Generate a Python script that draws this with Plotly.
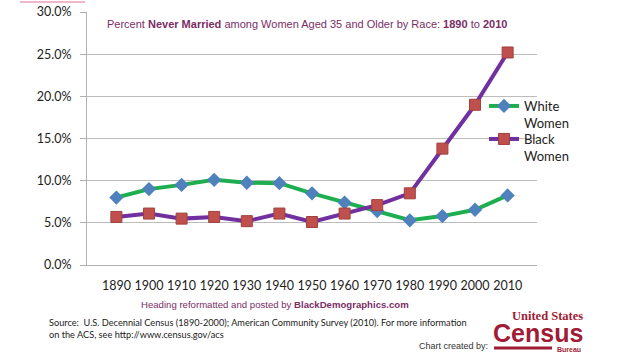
import plotly.graph_objects as go

years = ["1890", "1900", "1910", "1920", "1930", "1940", "1950", "1960", "1970", "1980", "1990", "2000", "2010"]
white_women = [0.080, 0.090, 0.095, 0.101, 0.0975, 0.097, 0.085, 0.074, 0.064, 0.053, 0.058, 0.0655, 0.0825]
black_women = [0.057, 0.061, 0.055, 0.057, 0.052, 0.061, 0.051, 0.061, 0.071, 0.085, 0.138, 0.190, 0.252]
y_ticks = [0, 0.05, 0.10, 0.15, 0.20, 0.25, 0.30]

L, R, T, B = 87, 103, 12, 95
W, H = 640, 360
pw, ph = W - L - R, H - T - B

def px(x):
    return (x - L) / pw

def py(y):
    return (H - B - y) / ph

fig = go.Figure()
fig.add_trace(go.Scatter(
    x=years, y=white_women, name="White<br>Women", mode="lines+markers", legend="legend",
    line=dict(color="#1fae4f", width=4),
    marker=dict(symbol="diamond", size=11, color="#4f81bd", line=dict(width=0)),
))
fig.add_trace(go.Scatter(
    x=years, y=black_women, name="Black<br>Women", mode="lines+markers", legend="legend2",
    line=dict(color="#7030a0", width=4),
    marker=dict(symbol="square", size=11, color="#c0504d", line=dict(width=1, color="#a0403d")),
))

purple = "#7b2d66"
red = "#a01c36"
legend_common = dict(xanchor="left", yanchor="top", valign="top",
                     font=dict(family="Lato", size=13, color="#222222"),
                     bgcolor="rgba(0,0,0,0)", itemwidth=30, tracegroupgap=0)
fig.update_layout(
    width=W, height=H,
    margin=dict(l=L, r=R, t=T, b=B, autoexpand=False),
    paper_bgcolor="white", plot_bgcolor="white",
    font=dict(family="Lato", color="#222222"),
    showlegend=True,
    legend=dict(x=px(484), y=py(91), **legend_common),
    legend2=dict(x=px(484), y=py(124), **legend_common),
    xaxis=dict(type="category", showgrid=False, showline=True, linecolor="#b0b0b0",
               linewidth=1, ticks="", tickangle=0, automargin=False,
               tickfont=dict(family="Lato", size=12.5, color="#222222"),
               ticklabelstandoff=9),
    yaxis=dict(range=[0, 0.30], tickvals=y_ticks, tickformat=".1%", automargin=False,
               showgrid=True, gridcolor="#bcbcbc", gridwidth=1,
               showline=True, linecolor="#b0b0b0", linewidth=1,
               ticks="outside", ticklen=6, tickcolor="#b0b0b0",
               tickfont=dict(family="Lato", size=12.5, color="#222222"), zeroline=False,
               ticklabelstandoff=6),
)

def note(x, y, text, font, xanchor="center", **kw):
    return dict(x=px(x), y=py(y), xref="paper", yref="paper", showarrow=False,
                xanchor=xanchor, yanchor=kw.pop("yanchor", "middle"), text=text, font=font, **kw)

ann = [
    note(307, 24, "Percent <b>Never Married</b> among Women Aged 35 and Older by Race: <b>1890</b> to <b>2010</b>",
         dict(family="Liberation Sans", size=11, color=purple)),
    note(275, 304, "Heading reformatted and posted by <b>BlackDemographics.com</b>",
         dict(family="Liberation Sans", size=9.6, color=purple)),
    note(47, 315, "Source:  U.S. Decennial Census (1890-2000); American Community Survey (2010). For more information<br>on the ACS, see http://www.census.gov/acs",
         dict(family="Lato", size=9.2, color="#222222"), xanchor="left", yanchor="top", align="left"),
    note(490, 346, "Chart created by:", dict(family="Liberation Sans", size=9, color="#333333"), xanchor="right"),
    note(547, 316, "<b>United States</b>", dict(family="Liberation Serif", size=12.5, color=red)),
    note(538, 333, "<b>Census</b>", dict(family="Liberation Sans", size=25, color=red)),
    note(569, 349, "<b>Bureau</b>", dict(family="Liberation Sans", size=7, color=red)),
]
fig.update_layout(annotations=ann)

fig.add_shape(type="line", xref="paper", yref="paper", x0=px(494), x1=px(552), y0=py(348), y1=py(348),
              line=dict(color=red, width=3))
fig.add_shape(type="line", xref="paper", yref="paper", x0=px(20), x1=px(85), y0=py(2), y1=py(2),
              line=dict(color="#e8a0b8", width=1.5))

fig.write_html("out.html", post_script="document.body.style.margin='0';",
               config={"displayModeBar": False})
